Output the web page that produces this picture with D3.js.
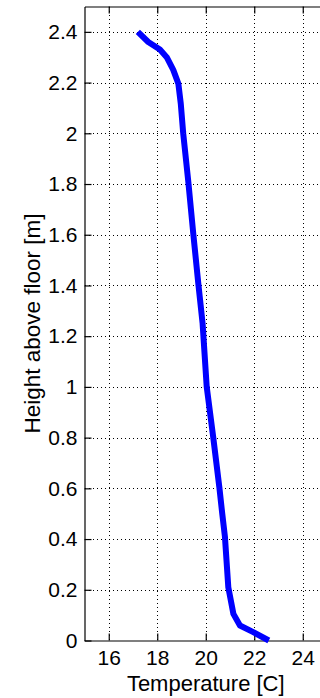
<!DOCTYPE html>
<html>
<head>
<meta charset="utf-8">
<script src="https://cdn.jsdelivr.net/npm/d3@7"></script>
<style>
  html, body { margin: 0; padding: 0; background: #fff; }
  svg { display: block; overflow: hidden; }
  text { font-family: "Liberation Sans", Arial, Helvetica, sans-serif; fill: #000; }
</style>
</head>
<body>
<svg id="chart" width="320" height="698"></svg>
<script>
// Vertical temperature profile (temperature vs. height above floor)
const temperature = [22.6, 21.96, 21.41, 21.14, 20.93, 20.79, 20.68, 20.56, 20.31, 20.04, 19.87, 19.69, 19.49, 19.28, 19.07, 18.97, 18.87, 18.66, 18.39, 18.11, 17.63, 17.2];
const height      = [0, 0.033, 0.059, 0.105, 0.21, 0.41, 0.5, 0.605, 0.80, 1.0, 1.25, 1.41, 1.60, 1.81, 2.0, 2.117, 2.196, 2.25, 2.30, 2.33, 2.36, 2.4];

const xDomain = [15, 25];
const yDomain = [0, 2.5];
const xTicks = [16, 18, 20, 22, 24];
const yTicks = [0, 0.2, 0.4, 0.6, 0.8, 1, 1.2, 1.4, 1.6, 1.8, 2, 2.2, 2.4];
const xLabel = "Temperature [C]";
const yLabel = "Height above floor [m]";

const svg = d3.select("#chart");
const plotLeft = 84.5, plotRight = 327, plotTop = 6.5, plotBottom = 640.5;

const x = d3.scaleLinear().domain(xDomain).range([plotLeft, plotRight]);
const y = d3.scaleLinear().domain(yDomain).range([plotBottom, plotTop]);

// dotted grid
const grid = svg.append("g")
  .attr("stroke", "#000").attr("stroke-width", 1)
  .attr("stroke-dasharray", "1,3").attr("shape-rendering", "crispEdges");
grid.selectAll("line.vx").data(xTicks).join("line")
  .attr("x1", d => Math.round(x(d)) + 0.5).attr("x2", d => Math.round(x(d)) + 0.5)
  .attr("y1", plotTop).attr("y2", plotBottom);
grid.selectAll("line.hy").data(yTicks.filter(d => d > 0)).join("line")
  .attr("y1", d => Math.round(y(d)) + 0.5).attr("y2", d => Math.round(y(d)) + 0.5)
  .attr("x1", plotLeft).attr("x2", plotRight);

// axes with inward ticks
const fmt = d => String(+d.toFixed(1));
const xAxis = svg.append("g").attr("transform", `translate(0,${plotBottom})`)
  .call(d3.axisBottom(x).tickValues(xTicks).tickSizeInner(-7).tickSizeOuter(0).tickPadding(10).tickFormat(fmt));
const xAxisTop = svg.append("g").attr("transform", `translate(0,${plotTop})`)
  .call(d3.axisTop(x).tickValues(xTicks).tickSizeInner(-7).tickSizeOuter(0).tickFormat(""));
const yAxis = svg.append("g").attr("transform", `translate(${plotLeft},0)`)
  .call(d3.axisLeft(y).tickValues(yTicks).tickSizeInner(-7).tickSizeOuter(0).tickPadding(7).tickFormat(fmt));

[xAxis, xAxisTop, yAxis].forEach(g => {
  g.select(".domain").attr("stroke", "#000").attr("stroke-width", 1.2);
  g.selectAll(".tick line").attr("stroke", "#000").attr("stroke-width", 1.2);
  g.selectAll("text").style("font-size", "21px").attr("fill", "#000");
});

// profile curve
const pts = temperature.map((t, i) => [t, height[i]]);
svg.append("path")
  .datum(pts)
  .attr("fill", "none")
  .attr("stroke", "#0000ff")
  .attr("stroke-width", 6)
  .attr("stroke-linejoin", "round")
  .attr("d", d3.line().x(d => x(d[0])).y(d => y(d[1])));

// axis labels
svg.append("text")
  .attr("x", (plotLeft + plotRight) / 2).attr("y", 691)
  .attr("text-anchor", "middle").style("font-size", "22px")
  .text(xLabel);
svg.append("text")
  .attr("transform", `translate(40,${(plotTop + plotBottom) / 2}) rotate(-90)`)
  .attr("text-anchor", "middle").style("font-size", "22.5px")
  .text(yLabel);
</script>
</body>
</html>
